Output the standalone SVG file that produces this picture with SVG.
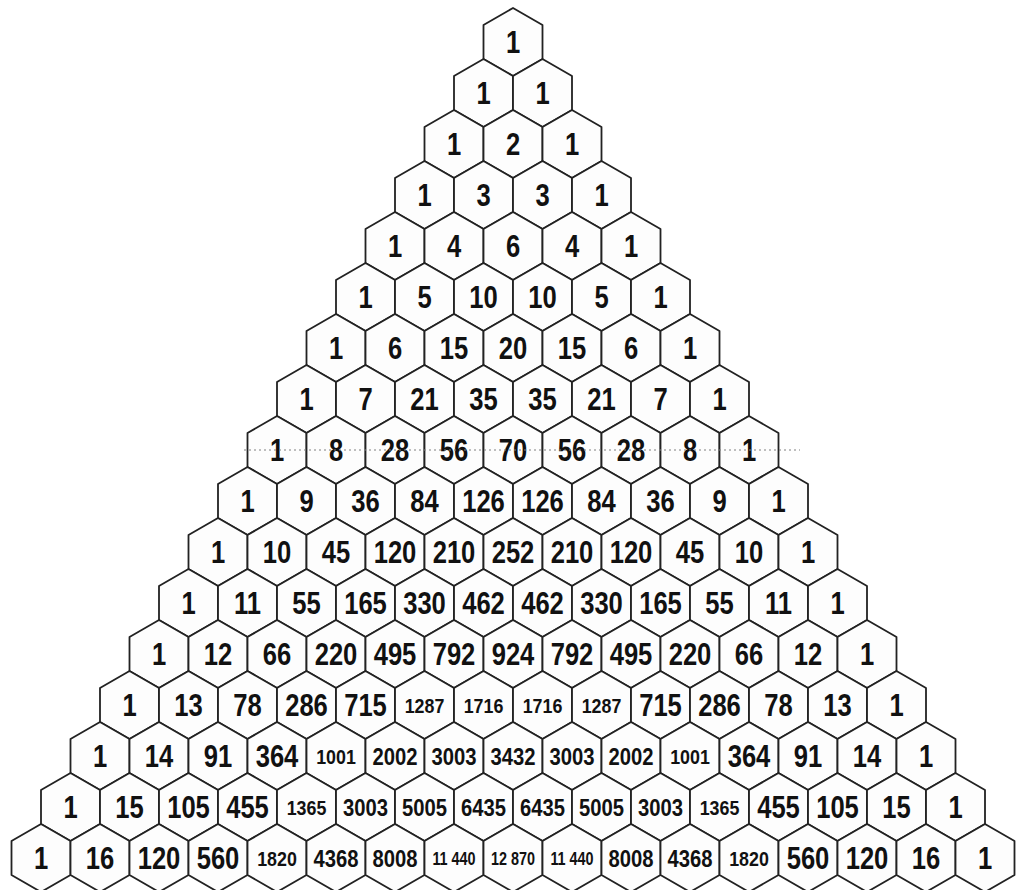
<svg xmlns="http://www.w3.org/2000/svg" xmlns:xlink="http://www.w3.org/1999/xlink" width="1026" height="890" viewBox="0 0 1026 890">
<style>
.hx{fill:#fdfdfd;stroke:#222222;stroke-width:1.8;stroke-linejoin:round}
text{font-family:"Liberation Sans",Arial,sans-serif;font-weight:bold;fill:#111111;text-anchor:middle}
.b{font-size:32px}
.m{font-size:23px}
.s{font-size:21px}
.x{font-size:18px}
.dot{stroke:#808080;stroke-width:1.2;stroke-dasharray:2 3;fill:none}
</style>
<defs>
<polygon id="h" class="hx" points="0,-34 29.5,-17 29.5,17 0,34 -29.5,17 -29.5,-17"/>
</defs>
<rect width="1026" height="890" fill="#ffffff"/>
<g id="nodes">
<!-- row 0 -->
<g id="n0_0" transform="translate(513,42)"><use href="#h"/><text class="b" y="11" transform="scale(.8 1)">1</text></g>
<!-- row 1 -->
<g id="n1_0" transform="translate(483.5,93)"><use href="#h"/><text class="b" y="11" transform="scale(.8 1)">1</text></g>
<g id="n1_1" transform="translate(542.5,93)"><use href="#h"/><text class="b" y="11" transform="scale(.8 1)">1</text></g>
<!-- row 2 -->
<g id="n2_0" transform="translate(454,144)"><use href="#h"/><text class="b" y="11" transform="scale(.8 1)">1</text></g>
<g id="n2_1" transform="translate(513,144)"><use href="#h"/><text class="b" y="11" transform="scale(.8 1)">2</text></g>
<g id="n2_2" transform="translate(572,144)"><use href="#h"/><text class="b" y="11" transform="scale(.8 1)">1</text></g>
<!-- row 3 -->
<g id="n3_0" transform="translate(424.5,195)"><use href="#h"/><text class="b" y="11" transform="scale(.8 1)">1</text></g>
<g id="n3_1" transform="translate(483.5,195)"><use href="#h"/><text class="b" y="11" transform="scale(.8 1)">3</text></g>
<g id="n3_2" transform="translate(542.5,195)"><use href="#h"/><text class="b" y="11" transform="scale(.8 1)">3</text></g>
<g id="n3_3" transform="translate(601.5,195)"><use href="#h"/><text class="b" y="11" transform="scale(.8 1)">1</text></g>
<!-- row 4 -->
<g id="n4_0" transform="translate(395,246)"><use href="#h"/><text class="b" y="11" transform="scale(.8 1)">1</text></g>
<g id="n4_1" transform="translate(454,246)"><use href="#h"/><text class="b" y="11" transform="scale(.8 1)">4</text></g>
<g id="n4_2" transform="translate(513,246)"><use href="#h"/><text class="b" y="11" transform="scale(.8 1)">6</text></g>
<g id="n4_3" transform="translate(572,246)"><use href="#h"/><text class="b" y="11" transform="scale(.8 1)">4</text></g>
<g id="n4_4" transform="translate(631,246)"><use href="#h"/><text class="b" y="11" transform="scale(.8 1)">1</text></g>
<!-- row 5 -->
<g id="n5_0" transform="translate(365.5,297)"><use href="#h"/><text class="b" y="11" transform="scale(.8 1)">1</text></g>
<g id="n5_1" transform="translate(424.5,297)"><use href="#h"/><text class="b" y="11" transform="scale(.8 1)">5</text></g>
<g id="n5_2" transform="translate(483.5,297)"><use href="#h"/><text class="b" y="11" transform="scale(.8 1)">10</text></g>
<g id="n5_3" transform="translate(542.5,297)"><use href="#h"/><text class="b" y="11" transform="scale(.8 1)">10</text></g>
<g id="n5_4" transform="translate(601.5,297)"><use href="#h"/><text class="b" y="11" transform="scale(.8 1)">5</text></g>
<g id="n5_5" transform="translate(660.5,297)"><use href="#h"/><text class="b" y="11" transform="scale(.8 1)">1</text></g>
<!-- row 6 -->
<g id="n6_0" transform="translate(336,348)"><use href="#h"/><text class="b" y="11" transform="scale(.8 1)">1</text></g>
<g id="n6_1" transform="translate(395,348)"><use href="#h"/><text class="b" y="11" transform="scale(.8 1)">6</text></g>
<g id="n6_2" transform="translate(454,348)"><use href="#h"/><text class="b" y="11" transform="scale(.8 1)">15</text></g>
<g id="n6_3" transform="translate(513,348)"><use href="#h"/><text class="b" y="11" transform="scale(.8 1)">20</text></g>
<g id="n6_4" transform="translate(572,348)"><use href="#h"/><text class="b" y="11" transform="scale(.8 1)">15</text></g>
<g id="n6_5" transform="translate(631,348)"><use href="#h"/><text class="b" y="11" transform="scale(.8 1)">6</text></g>
<g id="n6_6" transform="translate(690,348)"><use href="#h"/><text class="b" y="11" transform="scale(.8 1)">1</text></g>
<!-- row 7 -->
<g id="n7_0" transform="translate(306.5,399)"><use href="#h"/><text class="b" y="11" transform="scale(.8 1)">1</text></g>
<g id="n7_1" transform="translate(365.5,399)"><use href="#h"/><text class="b" y="11" transform="scale(.8 1)">7</text></g>
<g id="n7_2" transform="translate(424.5,399)"><use href="#h"/><text class="b" y="11" transform="scale(.8 1)">21</text></g>
<g id="n7_3" transform="translate(483.5,399)"><use href="#h"/><text class="b" y="11" transform="scale(.8 1)">35</text></g>
<g id="n7_4" transform="translate(542.5,399)"><use href="#h"/><text class="b" y="11" transform="scale(.8 1)">35</text></g>
<g id="n7_5" transform="translate(601.5,399)"><use href="#h"/><text class="b" y="11" transform="scale(.8 1)">21</text></g>
<g id="n7_6" transform="translate(660.5,399)"><use href="#h"/><text class="b" y="11" transform="scale(.8 1)">7</text></g>
<g id="n7_7" transform="translate(719.5,399)"><use href="#h"/><text class="b" y="11" transform="scale(.8 1)">1</text></g>
<!-- row 8 -->
<g id="n8_0" transform="translate(277,450)"><use href="#h"/><text class="b" y="11" transform="scale(.8 1)">1</text></g>
<g id="n8_1" transform="translate(336,450)"><use href="#h"/><text class="b" y="11" transform="scale(.8 1)">8</text></g>
<g id="n8_2" transform="translate(395,450)"><use href="#h"/><text class="b" y="11" transform="scale(.8 1)">28</text></g>
<g id="n8_3" transform="translate(454,450)"><use href="#h"/><text class="b" y="11" transform="scale(.8 1)">56</text></g>
<g id="n8_4" transform="translate(513,450)"><use href="#h"/><text class="b" y="11" transform="scale(.8 1)">70</text></g>
<g id="n8_5" transform="translate(572,450)"><use href="#h"/><text class="b" y="11" transform="scale(.8 1)">56</text></g>
<g id="n8_6" transform="translate(631,450)"><use href="#h"/><text class="b" y="11" transform="scale(.8 1)">28</text></g>
<g id="n8_7" transform="translate(690,450)"><use href="#h"/><text class="b" y="11" transform="scale(.8 1)">8</text></g>
<g id="n8_8" transform="translate(749,450)"><use href="#h"/><text class="b" y="11" transform="scale(.8 1)">1</text></g>
<!-- row 9 -->
<g id="n9_0" transform="translate(247.5,501)"><use href="#h"/><text class="b" y="11" transform="scale(.8 1)">1</text></g>
<g id="n9_1" transform="translate(306.5,501)"><use href="#h"/><text class="b" y="11" transform="scale(.8 1)">9</text></g>
<g id="n9_2" transform="translate(365.5,501)"><use href="#h"/><text class="b" y="11" transform="scale(.8 1)">36</text></g>
<g id="n9_3" transform="translate(424.5,501)"><use href="#h"/><text class="b" y="11" transform="scale(.8 1)">84</text></g>
<g id="n9_4" transform="translate(483.5,501)"><use href="#h"/><text class="b" y="11" transform="scale(.8 1)">126</text></g>
<g id="n9_5" transform="translate(542.5,501)"><use href="#h"/><text class="b" y="11" transform="scale(.8 1)">126</text></g>
<g id="n9_6" transform="translate(601.5,501)"><use href="#h"/><text class="b" y="11" transform="scale(.8 1)">84</text></g>
<g id="n9_7" transform="translate(660.5,501)"><use href="#h"/><text class="b" y="11" transform="scale(.8 1)">36</text></g>
<g id="n9_8" transform="translate(719.5,501)"><use href="#h"/><text class="b" y="11" transform="scale(.8 1)">9</text></g>
<g id="n9_9" transform="translate(778.5,501)"><use href="#h"/><text class="b" y="11" transform="scale(.8 1)">1</text></g>
<!-- row 10 -->
<g id="n10_0" transform="translate(218,552)"><use href="#h"/><text class="b" y="11" transform="scale(.8 1)">1</text></g>
<g id="n10_1" transform="translate(277,552)"><use href="#h"/><text class="b" y="11" transform="scale(.8 1)">10</text></g>
<g id="n10_2" transform="translate(336,552)"><use href="#h"/><text class="b" y="11" transform="scale(.8 1)">45</text></g>
<g id="n10_3" transform="translate(395,552)"><use href="#h"/><text class="b" y="11" transform="scale(.8 1)">120</text></g>
<g id="n10_4" transform="translate(454,552)"><use href="#h"/><text class="b" y="11" transform="scale(.8 1)">210</text></g>
<g id="n10_5" transform="translate(513,552)"><use href="#h"/><text class="b" y="11" transform="scale(.8 1)">252</text></g>
<g id="n10_6" transform="translate(572,552)"><use href="#h"/><text class="b" y="11" transform="scale(.8 1)">210</text></g>
<g id="n10_7" transform="translate(631,552)"><use href="#h"/><text class="b" y="11" transform="scale(.8 1)">120</text></g>
<g id="n10_8" transform="translate(690,552)"><use href="#h"/><text class="b" y="11" transform="scale(.8 1)">45</text></g>
<g id="n10_9" transform="translate(749,552)"><use href="#h"/><text class="b" y="11" transform="scale(.8 1)">10</text></g>
<g id="n10_10" transform="translate(808,552)"><use href="#h"/><text class="b" y="11" transform="scale(.8 1)">1</text></g>
<!-- row 11 -->
<g id="n11_0" transform="translate(188.5,603)"><use href="#h"/><text class="b" y="11" transform="scale(.8 1)">1</text></g>
<g id="n11_1" transform="translate(247.5,603)"><use href="#h"/><text class="b" y="11" transform="scale(.8 1)">11</text></g>
<g id="n11_2" transform="translate(306.5,603)"><use href="#h"/><text class="b" y="11" transform="scale(.8 1)">55</text></g>
<g id="n11_3" transform="translate(365.5,603)"><use href="#h"/><text class="b" y="11" transform="scale(.8 1)">165</text></g>
<g id="n11_4" transform="translate(424.5,603)"><use href="#h"/><text class="b" y="11" transform="scale(.8 1)">330</text></g>
<g id="n11_5" transform="translate(483.5,603)"><use href="#h"/><text class="b" y="11" transform="scale(.8 1)">462</text></g>
<g id="n11_6" transform="translate(542.5,603)"><use href="#h"/><text class="b" y="11" transform="scale(.8 1)">462</text></g>
<g id="n11_7" transform="translate(601.5,603)"><use href="#h"/><text class="b" y="11" transform="scale(.8 1)">330</text></g>
<g id="n11_8" transform="translate(660.5,603)"><use href="#h"/><text class="b" y="11" transform="scale(.8 1)">165</text></g>
<g id="n11_9" transform="translate(719.5,603)"><use href="#h"/><text class="b" y="11" transform="scale(.8 1)">55</text></g>
<g id="n11_10" transform="translate(778.5,603)"><use href="#h"/><text class="b" y="11" transform="scale(.8 1)">11</text></g>
<g id="n11_11" transform="translate(837.5,603)"><use href="#h"/><text class="b" y="11" transform="scale(.8 1)">1</text></g>
<!-- row 12 -->
<g id="n12_0" transform="translate(159,654)"><use href="#h"/><text class="b" y="11" transform="scale(.8 1)">1</text></g>
<g id="n12_1" transform="translate(218,654)"><use href="#h"/><text class="b" y="11" transform="scale(.8 1)">12</text></g>
<g id="n12_2" transform="translate(277,654)"><use href="#h"/><text class="b" y="11" transform="scale(.8 1)">66</text></g>
<g id="n12_3" transform="translate(336,654)"><use href="#h"/><text class="b" y="11" transform="scale(.8 1)">220</text></g>
<g id="n12_4" transform="translate(395,654)"><use href="#h"/><text class="b" y="11" transform="scale(.8 1)">495</text></g>
<g id="n12_5" transform="translate(454,654)"><use href="#h"/><text class="b" y="11" transform="scale(.8 1)">792</text></g>
<g id="n12_6" transform="translate(513,654)"><use href="#h"/><text class="b" y="11" transform="scale(.8 1)">924</text></g>
<g id="n12_7" transform="translate(572,654)"><use href="#h"/><text class="b" y="11" transform="scale(.8 1)">792</text></g>
<g id="n12_8" transform="translate(631,654)"><use href="#h"/><text class="b" y="11" transform="scale(.8 1)">495</text></g>
<g id="n12_9" transform="translate(690,654)"><use href="#h"/><text class="b" y="11" transform="scale(.8 1)">220</text></g>
<g id="n12_10" transform="translate(749,654)"><use href="#h"/><text class="b" y="11" transform="scale(.8 1)">66</text></g>
<g id="n12_11" transform="translate(808,654)"><use href="#h"/><text class="b" y="11" transform="scale(.8 1)">12</text></g>
<g id="n12_12" transform="translate(867,654)"><use href="#h"/><text class="b" y="11" transform="scale(.8 1)">1</text></g>
<!-- row 13 -->
<g id="n13_0" transform="translate(129.5,705)"><use href="#h"/><text class="b" y="11" transform="scale(.8 1)">1</text></g>
<g id="n13_1" transform="translate(188.5,705)"><use href="#h"/><text class="b" y="11" transform="scale(.8 1)">13</text></g>
<g id="n13_2" transform="translate(247.5,705)"><use href="#h"/><text class="b" y="11" transform="scale(.8 1)">78</text></g>
<g id="n13_3" transform="translate(306.5,705)"><use href="#h"/><text class="b" y="11" transform="scale(.8 1)">286</text></g>
<g id="n13_4" transform="translate(365.5,705)"><use href="#h"/><text class="b" y="11" transform="scale(.8 1)">715</text></g>
<g id="n13_5" transform="translate(424.5,705)"><use href="#h"/><text class="s" y="7.5" transform="scale(.85 1)">1287</text></g>
<g id="n13_6" transform="translate(483.5,705)"><use href="#h"/><text class="s" y="7.5" transform="scale(.85 1)">1716</text></g>
<g id="n13_7" transform="translate(542.5,705)"><use href="#h"/><text class="s" y="7.5" transform="scale(.85 1)">1716</text></g>
<g id="n13_8" transform="translate(601.5,705)"><use href="#h"/><text class="s" y="7.5" transform="scale(.85 1)">1287</text></g>
<g id="n13_9" transform="translate(660.5,705)"><use href="#h"/><text class="b" y="11" transform="scale(.8 1)">715</text></g>
<g id="n13_10" transform="translate(719.5,705)"><use href="#h"/><text class="b" y="11" transform="scale(.8 1)">286</text></g>
<g id="n13_11" transform="translate(778.5,705)"><use href="#h"/><text class="b" y="11" transform="scale(.8 1)">78</text></g>
<g id="n13_12" transform="translate(837.5,705)"><use href="#h"/><text class="b" y="11" transform="scale(.8 1)">13</text></g>
<g id="n13_13" transform="translate(896.5,705)"><use href="#h"/><text class="b" y="11" transform="scale(.8 1)">1</text></g>
<!-- row 14 -->
<g id="n14_0" transform="translate(100,756)"><use href="#h"/><text class="b" y="11" transform="scale(.8 1)">1</text></g>
<g id="n14_1" transform="translate(159,756)"><use href="#h"/><text class="b" y="11" transform="scale(.8 1)">14</text></g>
<g id="n14_2" transform="translate(218,756)"><use href="#h"/><text class="b" y="11" transform="scale(.8 1)">91</text></g>
<g id="n14_3" transform="translate(277,756)"><use href="#h"/><text class="b" y="11" transform="scale(.8 1)">364</text></g>
<g id="n14_4" transform="translate(336,756)"><use href="#h"/><text class="s" y="7.5" transform="scale(.85 1)">1001</text></g>
<g id="n14_5" transform="translate(395,756)"><use href="#h"/><text class="m" y="8.5" transform="scale(.88 1)">2002</text></g>
<g id="n14_6" transform="translate(454,756)"><use href="#h"/><text class="m" y="8.5" transform="scale(.88 1)">3003</text></g>
<g id="n14_7" transform="translate(513,756)"><use href="#h"/><text class="m" y="8.5" transform="scale(.88 1)">3432</text></g>
<g id="n14_8" transform="translate(572,756)"><use href="#h"/><text class="m" y="8.5" transform="scale(.88 1)">3003</text></g>
<g id="n14_9" transform="translate(631,756)"><use href="#h"/><text class="m" y="8.5" transform="scale(.88 1)">2002</text></g>
<g id="n14_10" transform="translate(690,756)"><use href="#h"/><text class="s" y="7.5" transform="scale(.85 1)">1001</text></g>
<g id="n14_11" transform="translate(749,756)"><use href="#h"/><text class="b" y="11" transform="scale(.8 1)">364</text></g>
<g id="n14_12" transform="translate(808,756)"><use href="#h"/><text class="b" y="11" transform="scale(.8 1)">91</text></g>
<g id="n14_13" transform="translate(867,756)"><use href="#h"/><text class="b" y="11" transform="scale(.8 1)">14</text></g>
<g id="n14_14" transform="translate(926,756)"><use href="#h"/><text class="b" y="11" transform="scale(.8 1)">1</text></g>
<!-- row 15 -->
<g id="n15_0" transform="translate(70.5,807)"><use href="#h"/><text class="b" y="11" transform="scale(.8 1)">1</text></g>
<g id="n15_1" transform="translate(129.5,807)"><use href="#h"/><text class="b" y="11" transform="scale(.8 1)">15</text></g>
<g id="n15_2" transform="translate(188.5,807)"><use href="#h"/><text class="b" y="11" transform="scale(.8 1)">105</text></g>
<g id="n15_3" transform="translate(247.5,807)"><use href="#h"/><text class="b" y="11" transform="scale(.8 1)">455</text></g>
<g id="n15_4" transform="translate(306.5,807)"><use href="#h"/><text class="s" y="7.5" transform="scale(.85 1)">1365</text></g>
<g id="n15_5" transform="translate(365.5,807)"><use href="#h"/><text class="m" y="8.5" transform="scale(.88 1)">3003</text></g>
<g id="n15_6" transform="translate(424.5,807)"><use href="#h"/><text class="m" y="8.5" transform="scale(.88 1)">5005</text></g>
<g id="n15_7" transform="translate(483.5,807)"><use href="#h"/><text class="m" y="8.5" transform="scale(.88 1)">6435</text></g>
<g id="n15_8" transform="translate(542.5,807)"><use href="#h"/><text class="m" y="8.5" transform="scale(.88 1)">6435</text></g>
<g id="n15_9" transform="translate(601.5,807)"><use href="#h"/><text class="m" y="8.5" transform="scale(.88 1)">5005</text></g>
<g id="n15_10" transform="translate(660.5,807)"><use href="#h"/><text class="m" y="8.5" transform="scale(.88 1)">3003</text></g>
<g id="n15_11" transform="translate(719.5,807)"><use href="#h"/><text class="s" y="7.5" transform="scale(.85 1)">1365</text></g>
<g id="n15_12" transform="translate(778.5,807)"><use href="#h"/><text class="b" y="11" transform="scale(.8 1)">455</text></g>
<g id="n15_13" transform="translate(837.5,807)"><use href="#h"/><text class="b" y="11" transform="scale(.8 1)">105</text></g>
<g id="n15_14" transform="translate(896.5,807)"><use href="#h"/><text class="b" y="11" transform="scale(.8 1)">15</text></g>
<g id="n15_15" transform="translate(955.5,807)"><use href="#h"/><text class="b" y="11" transform="scale(.8 1)">1</text></g>
<!-- row 16 -->
<g id="n16_0" transform="translate(41,858)"><use href="#h"/><text class="b" y="11" transform="scale(.8 1)">1</text></g>
<g id="n16_1" transform="translate(100,858)"><use href="#h"/><text class="b" y="11" transform="scale(.8 1)">16</text></g>
<g id="n16_2" transform="translate(159,858)"><use href="#h"/><text class="b" y="11" transform="scale(.8 1)">120</text></g>
<g id="n16_3" transform="translate(218,858)"><use href="#h"/><text class="b" y="11" transform="scale(.8 1)">560</text></g>
<g id="n16_4" transform="translate(277,858)"><use href="#h"/><text class="s" y="7.5" transform="scale(.85 1)">1820</text></g>
<g id="n16_5" transform="translate(336,858)"><use href="#h"/><text class="m" y="8.5" transform="scale(.88 1)">4368</text></g>
<g id="n16_6" transform="translate(395,858)"><use href="#h"/><text class="m" y="8.5" transform="scale(.88 1)">8008</text></g>
<g id="n16_7" transform="translate(454,858)"><use href="#h"/><text class="x" y="6.5" transform="scale(.8 1)">11 440</text></g>
<g id="n16_8" transform="translate(513,858)"><use href="#h"/><text class="x" y="6.5" transform="scale(.8 1)">12 870</text></g>
<g id="n16_9" transform="translate(572,858)"><use href="#h"/><text class="x" y="6.5" transform="scale(.8 1)">11 440</text></g>
<g id="n16_10" transform="translate(631,858)"><use href="#h"/><text class="m" y="8.5" transform="scale(.88 1)">8008</text></g>
<g id="n16_11" transform="translate(690,858)"><use href="#h"/><text class="m" y="8.5" transform="scale(.88 1)">4368</text></g>
<g id="n16_12" transform="translate(749,858)"><use href="#h"/><text class="s" y="7.5" transform="scale(.85 1)">1820</text></g>
<g id="n16_13" transform="translate(808,858)"><use href="#h"/><text class="b" y="11" transform="scale(.8 1)">560</text></g>
<g id="n16_14" transform="translate(867,858)"><use href="#h"/><text class="b" y="11" transform="scale(.8 1)">120</text></g>
<g id="n16_15" transform="translate(926,858)"><use href="#h"/><text class="b" y="11" transform="scale(.8 1)">16</text></g>
<g id="n16_16" transform="translate(985,858)"><use href="#h"/><text class="b" y="11" transform="scale(.8 1)">1</text></g>
</g>
<g id="connectors">
<line class="dot" x1="244" y1="450" x2="800" y2="450"/>
</g>
</svg>
